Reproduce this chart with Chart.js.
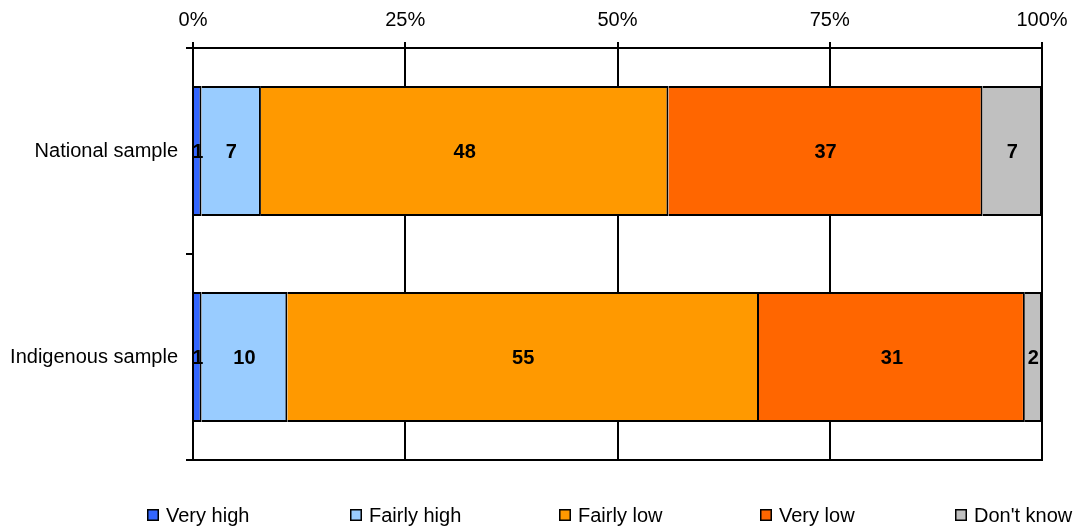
<!DOCTYPE html>
<html>
<head>
<meta charset="utf-8">
<script src="https://cdn.jsdelivr.net/npm/chart.js@4"></script>
<style>
  html, body { margin: 0; padding: 0; background: #fff; }
  #wrap { width: 1073px; height: 527px; }
</style>
</head>
<body>
<div id="wrap"><canvas id="chart"></canvas></div>
<script>
const categories = ['National sample', 'Indigenous sample'];
const seriesNames = ['Very high', 'Fairly high', 'Fairly low', 'Very low', "Don't know"];

// answers per sample, in percent
const veryHigh = [1, 1];
const fairlyHigh = [7, 10];
const fairlyLow = [48, 55];
const veryLow = [37, 31];
const dontKnow = [7, 2];

const xTicks = [0, 25, 50, 75, 100];

const seriesValues = [veryHigh, fairlyHigh, fairlyLow, veryLow, dontKnow];
const colors = ['#3366FF', '#99CCFF', '#FF9900', '#FF6600', '#C0C0C0'];
const FONT = "'Liberation Sans', Arial, sans-serif";

// each row is shown as a share of its own total (100% stacked)
const rowTotals = categories.map((c, i) => seriesValues.reduce((s, arr) => s + arr[i], 0));

const datasets = seriesNames.map((name, k) => ({
  label: name,
  data: seriesValues[k].map((v, i) => v / rowTotals[i] * 100),
  raw: seriesValues[k],
  backgroundColor: colors[k],
  borderColor: '#000',
  borderWidth: 2,
  borderSkipped: 'start',
  barPercentage: 0.63,
  categoryPercentage: 1
}));

// value labels in the middle of every segment
const segmentLabels = {
  id: 'segmentLabels',
  afterDatasetsDraw(chart) {
    const ctx = chart.ctx;
    ctx.save();
    ctx.font = 'bold 20px ' + FONT;
    ctx.fillStyle = '#000';
    ctx.textAlign = 'center';
    ctx.textBaseline = 'middle';
    chart.data.datasets.forEach((ds, k) => {
      chart.getDatasetMeta(k).data.forEach((bar, i) => {
        const p = bar.getCenterPoint();
        ctx.fillText(String(ds.raw[i]), p.x, p.y + 1);
      });
    });
    ctx.restore();
  }
};

// bottom edge of the plot frame + legend row
const frameAndLegend = {
  id: 'frameAndLegend',
  afterDraw(chart, args, opts) {
    const ctx = chart.ctx;
    const a = chart.chartArea;
    ctx.save();
    ctx.strokeStyle = '#000';
    ctx.lineWidth = 2;
    ctx.beginPath();
    ctx.moveTo(a.left - 1, a.bottom);
    ctx.lineTo(a.right + 1, a.bottom);
    ctx.stroke();

    ctx.font = '20px ' + FONT;
    ctx.textBaseline = 'middle';
    ctx.textAlign = 'left';
    chart.data.datasets.forEach((ds, k) => {
      const x = opts.xs[k];
      const y = opts.y;
      ctx.fillStyle = ds.backgroundColor;
      ctx.fillRect(x, y - 6, 12, 12);
      ctx.lineWidth = 1.5;
      ctx.strokeStyle = '#000';
      ctx.strokeRect(x + 0.75, y - 5.25, 10.5, 10.5);
      ctx.fillStyle = '#000';
      ctx.fillText(ds.label, x + 19, y + 1);
    });
    ctx.restore();
  }
};

new Chart(document.getElementById('chart'), {
  type: 'bar',
  data: { labels: categories, datasets },
  plugins: [segmentLabels, frameAndLegend],
  options: {
    indexAxis: 'y',
    responsive: true,
    maintainAspectRatio: false,
    animation: false,
    layout: { padding: { left: 0, right: 31, top: 0, bottom: 67 } },
    scales: {
      x: {
        position: 'top',
        stacked: true,
        min: 0,
        max: 100,
        afterFit(scale) {
          scale.height = 48;
          scale.paddingLeft = 0;
          scale.paddingRight = 0;
        },
        afterBuildTicks(scale) { scale.ticks = xTicks.map(v => ({ value: v })); },
        ticks: {
          callback: v => v + '%',
          color: '#000',
          padding: 10,
          maxRotation: 0,
          font: { family: FONT, size: 20 }
        },
        grid: { color: '#000', lineWidth: 2, tickLength: 6 },
        border: { color: '#000', width: 2 }
      },
      y: {
        stacked: true,
        afterFit(scale) { scale.width = 193; },
        ticks: {
          color: '#000',
          padding: 8,
          font: { family: FONT, size: 20 }
        },
        grid: { offset: true, drawOnChartArea: false, color: '#000', lineWidth: 2, tickLength: 7 },
        border: { color: '#000', width: 2 }
      }
    },
    plugins: {
      legend: { display: false },
      tooltip: { enabled: false },
      frameAndLegend: { xs: [147, 350, 559, 760, 955], y: 515 }
    }
  }
});
</script>
</body>
</html>
